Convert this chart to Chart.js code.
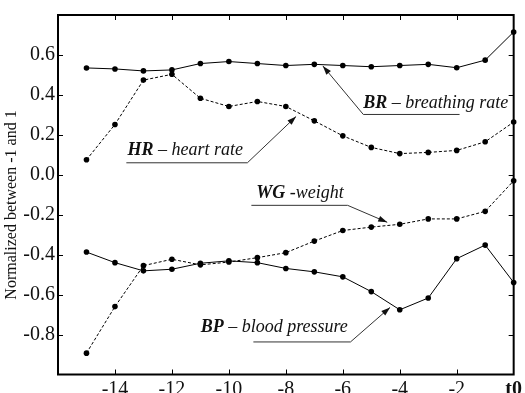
<!DOCTYPE html>
<html>
<head>
<meta charset="utf-8">
<script src="https://cdn.jsdelivr.net/npm/chart.js@4.4.1/dist/chart.umd.min.js"></script>
<style>
  html, body { margin: 0; padding: 0; background: #fff; }
  #wrap { width: 525px; height: 393px; }
</style>
</head>
<body>
<div id="wrap"><canvas id="vitals"></canvas></div>
<script>
// ============================================
// DATA
// ============================================
const timeSteps = [-15, -14, -13, -12, -11, -10, -9, -8, -7, -6, -5, -4, -3, -2, -1, 0];
const brValues = [0.535, 0.53, 0.52, 0.525, 0.557, 0.567, 0.557, 0.547, 0.553, 0.547, 0.541, 0.547, 0.553, 0.536, 0.574, 0.715];
const hrValues = [0.075, 0.252, 0.474, 0.503, 0.383, 0.342, 0.367, 0.342, 0.27, 0.195, 0.137, 0.106, 0.112, 0.122, 0.165, 0.264];
const wgValues = [-0.893, -0.66, -0.455, -0.423, -0.451, -0.437, -0.415, -0.39, -0.332, -0.279, -0.262, -0.248, -0.221, -0.221, -0.183, -0.03];
const bpValues = [-0.387, -0.44, -0.481, -0.473, -0.443, -0.431, -0.44, -0.469, -0.486, -0.511, -0.585, -0.676, -0.617, -0.42, -0.352, -0.539];

const yTitle = 'Normalized between -1 and 1';

// callouts: bold part, italic part, text anchor, underline, arrow tip (data units)
const callouts = [
    { bold: 'HR', rest: ' \u2013 heart rate', tx: -13.56, ty: 0.099, u0: -13.6, u1: -9.35, uy: 0.06, from: 'right', ax: -7.64, ay: 0.292 },
    { bold: 'BR', rest: ' \u2013 breathing rate', tx: -5.28, ty: 0.332, u0: -5.28, u1: -1.9, uy: 0.302, from: 'left', ax: -6.70, ay: 0.545 },
    { bold: 'WG', rest: ' -weight', tx: -9.04, ty: -0.114, u0: -9.21, u1: -5.83, uy: -0.153, from: 'right', ax: -4.44, ay: -0.238 },
    { bold: 'BP', rest: ' \u2013 blood pressure', tx: -10.99, ty: -0.787, u0: -9.14, u1: -5.73, uy: -0.837, from: 'right', ax: -4.34, ay: -0.664 }
];

const SERIF = "'Liberation Serif', 'Times New Roman', serif";
Chart.defaults.font.family = SERIF;

function toPoints(values) {
    return timeSteps.map((t, i) => ({ x: t, y: values[i] }));
}

function seriesStyle(dashed) {
    return {
        borderColor: '#000',
        backgroundColor: '#000',
        borderWidth: 1,
        borderDash: dashed ? [3, 2] : [],
        pointRadius: 2.8,
        pointBackgroundColor: '#000',
        pointBorderWidth: 0,
        tension: 0,
        clip: false
    };
}

// ============================================
// FRAME, INWARD TICKS, CALLOUTS
// ============================================
const decorPlugin = {
    id: 'decor',
    afterDraw(chart) {
        const ctx = chart.ctx;
        const a = chart.chartArea;
        const xs = chart.scales.x;
        const ys = chart.scales.y;
        ctx.save();

        // inward tick marks on all four sides
        ctx.strokeStyle = '#000';
        ctx.lineWidth = 1;
        ctx.beginPath();
        for (let v = -14; v <= -2; v += 2) {
            const px = Math.round(xs.getPixelForValue(v)) + 0.5;
            ctx.moveTo(px, a.bottom); ctx.lineTo(px, a.bottom - 5);
            ctx.moveTo(px, a.top); ctx.lineTo(px, a.top + 5);
        }
        for (let i = -4; i <= 3; i++) {
            const py = Math.round(ys.getPixelForValue(i * 0.2)) + 0.5;
            ctx.moveTo(a.left, py); ctx.lineTo(a.left + 5, py);
            ctx.moveTo(a.right, py); ctx.lineTo(a.right - 5, py);
        }
        ctx.stroke();

        // frame
        ctx.lineWidth = 2;
        ctx.strokeRect(a.left, a.top, a.right - a.left, a.bottom - a.top);

        // callouts
        callouts.forEach(c => {
            const tx = xs.getPixelForValue(c.tx);
            const ty = ys.getPixelForValue(c.ty);
            ctx.fillStyle = '#111';
            ctx.textBaseline = 'alphabetic';
            ctx.textAlign = 'left';
            ctx.font = 'italic bold 18px ' + SERIF;
            ctx.fillText(c.bold, tx, ty);
            const w = ctx.measureText(c.bold).width;
            ctx.font = 'italic 18px ' + SERIF;
            ctx.fillText(c.rest, tx + w, ty);

            const u0 = xs.getPixelForValue(c.u0);
            const u1 = xs.getPixelForValue(c.u1);
            const uy = ys.getPixelForValue(c.uy);
            const ax = xs.getPixelForValue(c.ax);
            const ay = ys.getPixelForValue(c.ay);
            const sx = c.from === 'left' ? u0 : u1;

            ctx.strokeStyle = '#333';
            ctx.lineWidth = 1;
            ctx.beginPath();
            ctx.moveTo(u0, uy);
            ctx.lineTo(u1, uy);
            ctx.moveTo(sx, uy);
            ctx.lineTo(ax, ay);
            ctx.stroke();

            // arrow head
            const ang = Math.atan2(ay - uy, ax - sx);
            const len = 9, half = 3;
            ctx.fillStyle = '#111';
            ctx.beginPath();
            ctx.moveTo(ax, ay);
            ctx.lineTo(ax - len * Math.cos(ang) + half * Math.sin(ang), ay - len * Math.sin(ang) - half * Math.cos(ang));
            ctx.lineTo(ax - len * Math.cos(ang) - half * Math.sin(ang), ay - len * Math.sin(ang) + half * Math.cos(ang));
            ctx.closePath();
            ctx.fill();
        });

        // y axis title
        ctx.fillStyle = '#111';
        ctx.font = '16px ' + SERIF;
        ctx.textAlign = 'center';
        ctx.textBaseline = 'middle';
        ctx.translate(12, 205);
        ctx.rotate(-Math.PI / 2);
        ctx.fillText(yTitle, 0, 0);
        ctx.restore();
    }
};

// ============================================
// CHART
// ============================================
new Chart(document.getElementById('vitals'), {
    type: 'line',
    data: {
        datasets: [
            Object.assign({ label: 'BR', data: toPoints(brValues) }, seriesStyle(false)),
            Object.assign({ label: 'HR', data: toPoints(hrValues) }, seriesStyle(true)),
            Object.assign({ label: 'WG', data: toPoints(wgValues) }, seriesStyle(true)),
            Object.assign({ label: 'BP', data: toPoints(bpValues) }, seriesStyle(false))
        ]
    },
    options: {
        responsive: true,
        maintainAspectRatio: false,
        animation: false,
        layout: { padding: { top: 11.5, right: 7, left: 0, bottom: 0 } },
        plugins: { legend: { display: false }, tooltip: { enabled: false } },
        scales: {
            x: {
                type: 'linear',
                min: -16,
                max: 0,
                grid: { display: false, drawTicks: false },
                border: { display: false },
                afterFit: (scale) => { scale.height = 18.5; },
                ticks: {
                    stepSize: 2,
                    padding: 3,
                    color: '#111',
                    maxRotation: 0,
                    autoSkip: false,
                    font: (c) => ({ family: SERIF, size: 20, weight: c.tick && c.tick.value === 0 ? 'bold' : 'normal' }),
                    callback: (v) => v === -16 ? '' : (v === 0 ? 't0' : String(v))
                }
            },
            y: {
                min: -1,
                max: 0.8,
                grid: { display: false, drawTicks: false },
                border: { display: false },
                afterFit: (scale) => { scale.width = 58; },
                ticks: {
                    stepSize: 0.2,
                    padding: 3,
                    color: '#111',
                    autoSkip: false,
                    font: { family: SERIF, size: 20 },
                    callback: (v) => {
                        if (v < -0.95 || v > 0.75) return '';
                        return (Math.abs(v) < 1e-9 ? 0 : v).toFixed(1);
                    }
                }
            }
        }
    },
    plugins: [decorPlugin]
});
</script>
</body>
</html>
